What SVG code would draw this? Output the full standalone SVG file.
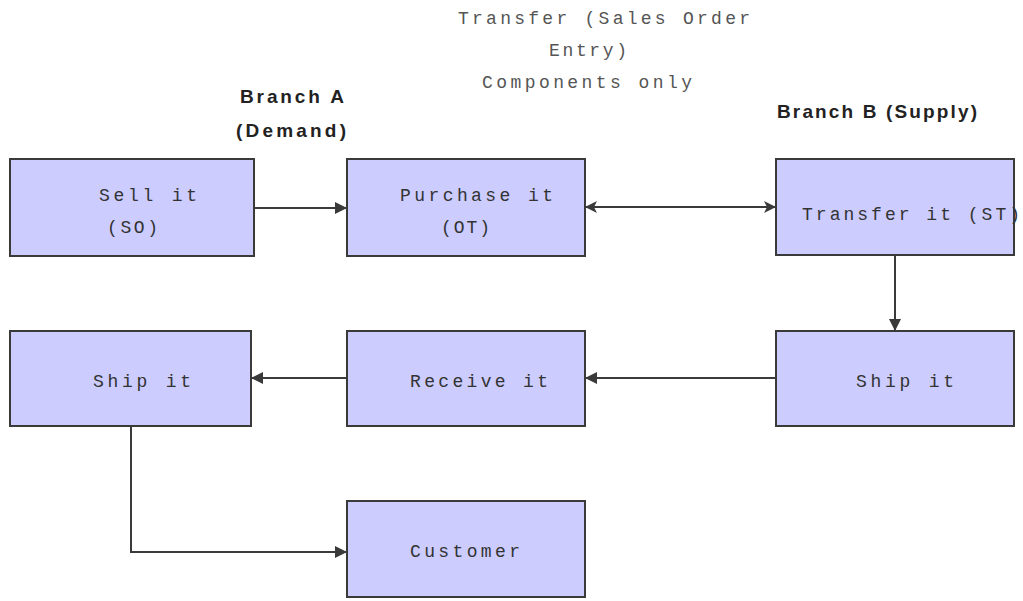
<svg xmlns="http://www.w3.org/2000/svg" width="1023" height="601" viewBox="0 0 1023 601">
<style>
.box{fill:#ccccff;stroke:#3a3a3a;stroke-width:2}
.t{font-family:"Liberation Mono","Courier New",monospace;font-size:18px;fill:#333}
.top{font-family:"Liberation Mono","Courier New",monospace;font-size:18px;fill:#555}
.br{font-family:"Liberation Sans",Arial,sans-serif;font-weight:bold;font-size:19px;fill:#222}
.c{fill:none;stroke:#3a3a3a;stroke-width:2}
</style>
<defs>
<marker id="a" viewBox="0 0 12 12" refX="11" refY="6" markerWidth="12" markerHeight="12" markerUnits="userSpaceOnUse" orient="auto-start-reverse">
<path d="M0,0 L12,6 L0,12 z" fill="#3a3a3a"/>
</marker>
<marker id="b" viewBox="0 0 12 12" refX="11" refY="6" markerWidth="12" markerHeight="12" markerUnits="userSpaceOnUse" orient="auto-start-reverse">
<path d="M0,0 L12,6 L0,12 L3,6 z" fill="#3a3a3a"/>
</marker>
</defs>
<g id="labels">
<text class="top" x="458" y="24" textLength="292" lengthAdjust="spacing">Transfer (Sales Order</text>
<text class="top" x="549" y="56" textLength="78" lengthAdjust="spacing">Entry)</text>
<text class="top" x="482" y="88" textLength="210" lengthAdjust="spacing">Components only</text>
<text class="br" x="240" y="103" textLength="104" lengthAdjust="spacing">Branch A</text>
<text class="br" x="236" y="137" textLength="110" lengthAdjust="spacing">(Demand)</text>
<text class="br" x="777" y="118" textLength="200" lengthAdjust="spacing">Branch B (Supply)</text>
</g>
<g id="connectors">
<line class="c" x1="254" y1="208" x2="346" y2="208" marker-end="url(#a)"/>
<line class="c" x1="586" y1="207" x2="775" y2="207" marker-start="url(#b)" marker-end="url(#b)"/>
<line class="c" x1="895" y1="255" x2="895" y2="330" marker-end="url(#a)"/>
<line class="c" x1="776" y1="378" x2="586" y2="378" marker-end="url(#a)"/>
<line class="c" x1="347" y1="378" x2="252" y2="378" marker-end="url(#a)"/>
<polyline class="c" points="131,426 131,552 346,552" marker-end="url(#a)"/>
</g>
<g id="sell">
<rect class="box" x="10" y="159" width="244" height="97"/>
<text class="t" x="99" y="201" textLength="98" lengthAdjust="spacing">Sell it</text>
<text class="t" x="107" y="233" textLength="51" lengthAdjust="spacing">(SO)</text>
</g>
<g id="purchase">
<rect class="box" x="347" y="159" width="238" height="97"/>
<text class="t" x="400" y="201" textLength="153" lengthAdjust="spacing">Purchase it</text>
<text class="t" x="441" y="233" textLength="49" lengthAdjust="spacing">(OT)</text>
</g>
<g id="transfer">
<rect class="box" x="776" y="159" width="238" height="96"/>
<text class="t" x="802" y="220" textLength="218" lengthAdjust="spacing">Transfer it (ST)</text>
</g>
<g id="shipB">
<rect class="box" x="776" y="331" width="238" height="95"/>
<text class="t" x="856" y="387" textLength="98" lengthAdjust="spacing">Ship it</text>
</g>
<g id="receive">
<rect class="box" x="347" y="331" width="238" height="95"/>
<text class="t" x="410" y="387" textLength="138" lengthAdjust="spacing">Receive it</text>
</g>
<g id="shipA">
<rect class="box" x="10" y="331" width="241" height="95"/>
<text class="t" x="93" y="387" textLength="98" lengthAdjust="spacing">Ship it</text>
</g>
<g id="customer">
<rect class="box" x="347" y="501" width="238" height="96"/>
<text class="t" x="410" y="557" textLength="110" lengthAdjust="spacing">Customer</text>
</g>
</svg>
